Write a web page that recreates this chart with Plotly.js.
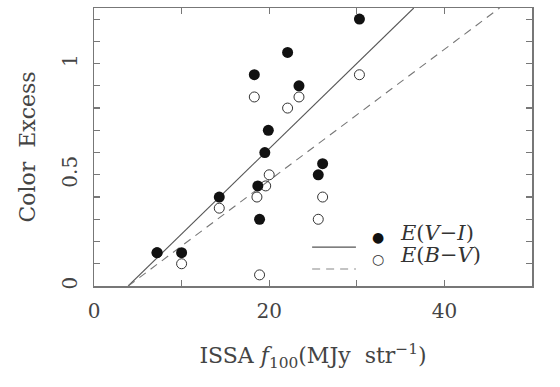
<!DOCTYPE html>
<html>
<head>
<meta charset="utf-8">
<script src="https://cdn.plot.ly/plotly-3.0.1.min.js"></script>
<style>html,body{margin:0;padding:0;background:#fff;}#chart{width:560px;height:387px;}</style>
</head>
<body>
<div id="chart"></div>
<script>
// E(V-I) filled points
var fluxVI = [7.2, 10.0, 14.3, 18.9, 18.3, 19.9, 19.5, 18.7, 22.1, 23.4, 30.3, 26.1, 25.6];
var excessVI = [0.15, 0.15, 0.40, 0.30, 0.95, 0.70, 0.60, 0.45, 1.05, 0.90, 1.20, 0.55, 0.50];
// E(B-V) open points
var fluxBV = [7.2, 10.0, 14.3, 18.9, 18.3, 20.0, 19.6, 18.6, 22.1, 23.4, 30.3, 26.1, 25.6];
var excessBV = [0.15, 0.10, 0.35, 0.05, 0.85, 0.50, 0.45, 0.40, 0.80, 0.85, 0.95, 0.40, 0.30];
// fit lines (endpoints)
var fitVIx = [3.9, 36.5];
var fitVIy = [0, 1.25];
var fitBVx = [3.9, 46.3];
var fitBVy = [0, 1.25];
var xTickVals = [0, 20, 40];
var xTickText = ["0", "20", "40"];
var yTickVals = [0, 0.5, 1];
var yTickText = ["0", "0.5", "1"];

var FONT = "DejaVu Serif, Liberation Serif, serif";
var traces = [
  {x: fitVIx, y: fitVIy, mode: 'lines', line: {color: '#555', width: 1.1}, hoverinfo: 'skip'},
  {x: fitBVx, y: fitBVy, mode: 'lines', line: {color: '#777', width: 1.1, dash: '8px,6px'}, hoverinfo: 'skip'},
  {x: fluxBV, y: excessBV, mode: 'markers',
   marker: {symbol: 'circle-open', size: 10, color: '#333', line: {width: 1}}},
  {x: fluxVI, y: excessVI, mode: 'markers',
   marker: {symbol: 'circle', size: 11, color: '#111'}}
];
var axisCommon = {
  showgrid: false, zeroline: false, showline: true, linecolor: '#777', linewidth: 1.5,
  mirror: 'ticks', ticks: 'inside', ticklen: 6, tickcolor: '#777', tickwidth: 1.2,
  tickfont: {family: FONT, size: 20, color: '#444'}
};
var layout = {
  width: 560, height: 387,
  margin: {l: 94, r: 28, t: 8, b: 101},
  paper_bgcolor: '#fff', plot_bgcolor: '#fff',
  showlegend: false,
  xaxis: Object.assign({}, axisCommon, {
    range: [0, 50], tickmode: 'array', tickvals: xTickVals, ticktext: xTickText,
    minor: {tickmode: 'array', tickvals: [10, 30, 50], ticks: 'inside', ticklen: 6, tickcolor: '#777', tickwidth: 1.2},
    ticklabelstandoff: 6,
    title: {text: 'ISSA <i>f</i><sub>100</sub>(MJy  str<sup>\u22121</sup>)', font: {family: FONT, size: 22, color: '#444'}, standoff: 26}
  }),
  yaxis: Object.assign({}, axisCommon, {
    range: [0, 1.25], tickmode: 'array', tickvals: yTickVals, ticktext: yTickText, tickangle: -90,
    minor: {tickmode: 'array', tickvals: [0.1, 0.2, 0.3, 0.4, 0.6, 0.7, 0.8, 0.9, 1.1, 1.2], ticks: 'inside', ticklen: 6, tickcolor: '#777', tickwidth: 1.2},
    ticklabelstandoff: 8,
    title: {text: 'Color  Excess', font: {family: FONT, size: 22, color: '#444'}, standoff: 16}
  }),
  shapes: [
    {type: 'line', xref: 'paper', yref: 'paper', x0: 0.498, x1: 0.598, y0: 0.140, y1: 0.140, line: {color: '#555', width: 1.1}},
    {type: 'line', xref: 'paper', yref: 'paper', x0: 0.498, x1: 0.598, y0: 0.061, y1: 0.061, line: {color: '#888', width: 1.1, dash: '8px,6px'}}
  ],
  annotations: [
    {xref: 'paper', yref: 'paper', x: 0.648, y: 0.140, text: '\u25CF', showarrow: false, font: {family: 'DejaVu Sans', size: 14, color: '#111'}},
    {xref: 'paper', yref: 'paper', x: 0.648, y: 0.061, text: '\u25CB', showarrow: false, font: {family: 'DejaVu Sans', size: 14, color: '#333'}},
    {xref: 'paper', yref: 'paper', x: 0.695, y: 0.140, xanchor: 'left', text: '<i>E</i>(<i>V</i>\u2212<i>I</i>)', showarrow: false, font: {family: FONT, size: 21, color: '#333'}},
    {xref: 'paper', yref: 'paper', x: 0.695, y: 0.061, xanchor: 'left', text: '<i>E</i>(<i>B</i>\u2212<i>V</i>)', showarrow: false, font: {family: FONT, size: 21, color: '#333'}}
  ]
};
Plotly.newPlot('chart', traces, layout, {staticPlot: true, displayModeBar: false});
</script>
</body>
</html>
